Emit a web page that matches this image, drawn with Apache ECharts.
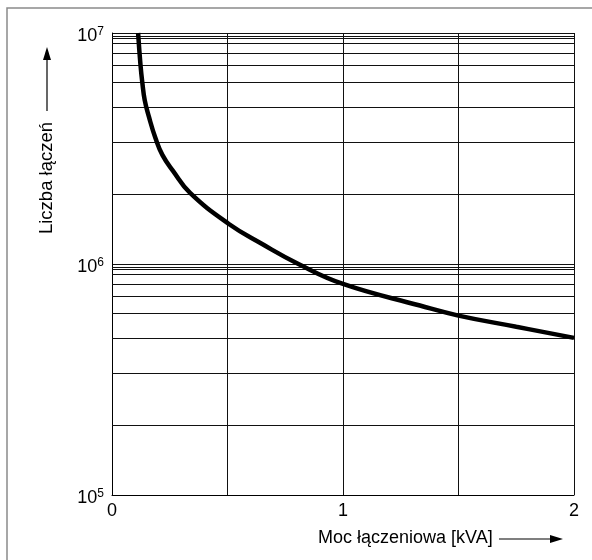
<!DOCTYPE html>
<html>
<head>
<meta charset="utf-8">
<script src="https://cdn.jsdelivr.net/npm/echarts@6/dist/echarts.min.js"></script>
<style>
html,body{margin:0;padding:0;background:#fff;}
#c{width:592px;height:560px;}
</style>
</head>
<body>
<div id="c"></div>
<script>
// Curve: switching power [kVA] vs. number of switching operations
const powerKVA = [0.113, 0.1234, 0.1312, 0.1416, 0.160, 0.188, 0.2186, 0.264, 0.338, 0.506, 0.65, 0.807, 1.0, 1.333, 1.5, 1.75, 2.0];
const switchings = [1.0e7, 7.26e6, 6.11e6, 5.12e6, 4.33e6, 3.51e6, 2.96e6, 2.53e6, 2.03e6, 1.49e6, 1.22e6, 1.0e6, 8.2e5, 6.61e5, 5.98e5, 5.35e5, 4.79e5];
// Axis ticks
const xTicks = [0, 1, 2];
const yDecades = [1e5, 1e6, 1e7];
// Horizontal minor grid lines as drawn in the reference (multipliers within each decade)
const gridMultipliers = [2, 3.35, 4.77, 6.12, 7.28, 8.2, 9.0, 9.45, 9.7];
const gridDecadeBases = [1e5, 1e6];

const FONT = 'Liberation Sans, Arial, sans-serif';
const minorGridValues = [];
gridDecadeBases.forEach(b => gridMultipliers.forEach(m => minorGridValues.push(b * m)));

const chart = echarts.init(document.getElementById('c'), null, {renderer: 'canvas'});

chart.setOption({
  animation: false,
  backgroundColor: '#fff',
  grid: {left: 112, right: 18, top: 33, bottom: 65, containLabel: false},
  xAxis: {
    type: 'value', min: 0, max: 2, interval: 0.5,
    axisLine: {show: true, lineStyle: {color: '#000', width: 1}},
    axisTick: {show: false},
    axisLabel: {
      color: '#000', fontFamily: FONT, fontSize: 18, margin: 7,
      formatter: v => (xTicks.indexOf(v) >= 0 ? String(v) : '')
    },
    splitLine: {show: true, lineStyle: {color: '#111', width: 1}}
  },
  yAxis: {
    type: 'log', logBase: 10, min: 1e5, max: 1e7, interval: 1,
    axisLine: {show: true, lineStyle: {color: '#000', width: 1}},
    axisTick: {show: false},
    axisLabel: {
      color: '#000', fontFamily: FONT, fontSize: 18, margin: 8,
      padding: [6, 0, 0, 0],
      formatter: v => '{b|10}{s|' + Math.round(Math.log10(v)) + '}',
      rich: {
        b: {fontFamily: FONT, fontSize: 18, color: '#000'},
        s: {fontFamily: FONT, fontSize: 12, color: '#000', padding: [0, 0, 9, 0]}
      }
    },
    splitLine: {show: true, lineStyle: {color: '#111', width: 1}},
    minorTick: {show: false},
    minorSplitLine: {show: false}
  },
  series: [{
    type: 'line',
    data: powerKVA.map((x, i) => [x, switchings[i]]),
    smooth: 0.45,
    symbol: 'none',
    lineStyle: {color: '#000', width: 4.5},
    z: 5,
    markLine: {
      silent: true,
      symbol: 'none',
      label: {show: false},
      lineStyle: {color: '#111', width: 1, type: 'solid'},
      data: minorGridValues.map(v => ({yAxis: v}))
    }
  }],
  graphic: [
    {type: 'rect', shape: {x: 7, y: 8, width: 620, height: 620}, style: {fill: 'none', stroke: '#8a8a8a', lineWidth: 1.5}, silent: true},
    {type: 'text', left: 318, top: 529, style: {text: 'Moc łączeniowa [kVA]', fontFamily: FONT, fontSize: 18, fill: '#000'}},
    {type: 'line', shape: {x1: 499, y1: 539, x2: 552, y2: 539}, style: {stroke: '#000', lineWidth: 1.2}},
    {type: 'polygon', shape: {points: [[550, 535], [563, 539], [550, 543]]}, style: {fill: '#000'}},
    {type: 'text', x: 47, y: 178, rotation: Math.PI / 2, style: {text: 'Liczba łączeń', fontFamily: FONT, fontSize: 18.5, fill: '#000', align: 'center', verticalAlign: 'middle'}},
    {type: 'line', shape: {x1: 47, y1: 111, x2: 47, y2: 58}, style: {stroke: '#000', lineWidth: 1.2}},
    {type: 'polygon', shape: {points: [[43, 60], [47, 47], [51, 60]]}, style: {fill: '#000'}}
  ]
});
</script>
</body>
</html>
